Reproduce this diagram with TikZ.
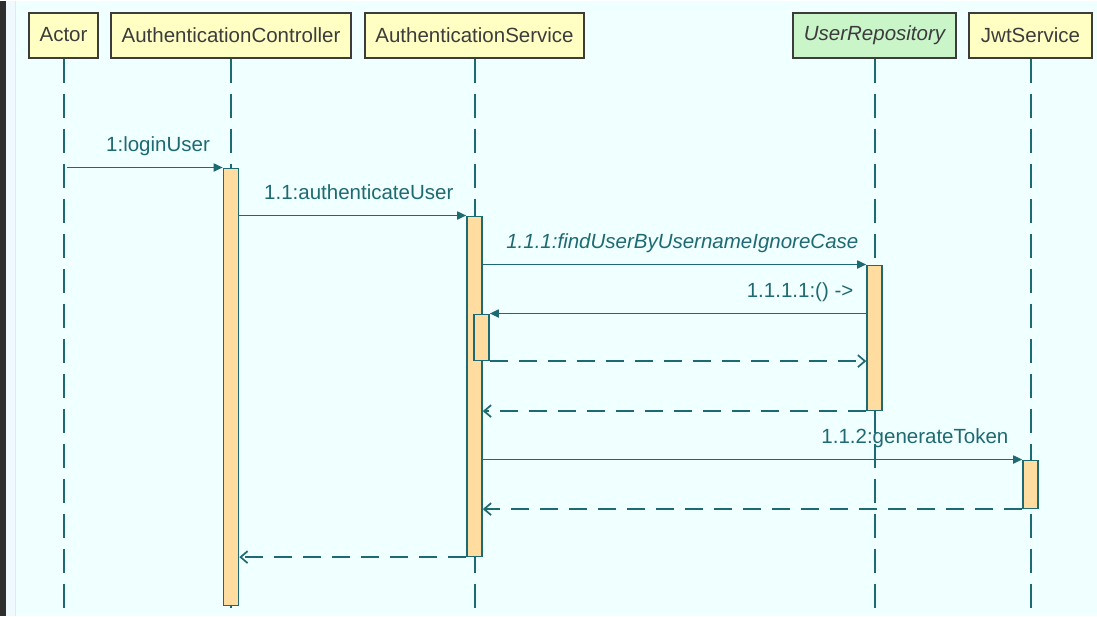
\documentclass[tikz,border=0pt]{standalone}
\usepackage{fontspec}
\setmainfont{Liberation Sans}
\usetikzlibrary{positioning,arrows.meta}
\definecolor{bgcol}{HTML}{F0FFFF}
\definecolor{linecol}{HTML}{1E6A73}
\definecolor{headfill}{HTML}{FFFFC4}
\definecolor{repofill}{HTML}{C9F5C9}
\definecolor{barfill}{HTML}{FFDCA0}
\definecolor{headtext}{HTML}{3C3C3C}
\begin{document}
\begin{tikzpicture}[x=1pt, y=-1pt,
  head/.style = {draw=headtext, line width=2pt, fill=headfill, text=headtext, minimum height=45pt, inner xsep=2pt, font=\fontsize{20.5}{24}\selectfont},
  life/.style = {draw=linecol, line width=2pt, dash pattern=on 24pt off 11pt},
  bar/.style = {draw=linecol, line width=1.6pt, fill=barfill, minimum width=15pt, inner sep=0pt, anchor=north},
  msg/.style = {draw=linecol, line width=1.7pt, -{Triangle[length=9pt,width=8pt]}},
  ret/.style = {draw=linecol, line width=1.7pt, dash pattern=on 18pt off 11pt, -{Straight Barb[length=7pt,width=12pt]}},
  lbl/.style = {text=linecol, inner sep=0pt, anchor=base east, yshift=16pt, font=\fontsize{20.5}{24}\selectfont}]
\fill[bgcol] (0,0) rectangle (1097,615);
\fill[black!82] (0,0) rectangle (6,615);
\fill[cyan!6] (6,0) rectangle (15,615);
\draw[cyan!18!white, line width=1pt] (15.5,0) -- (15.5,615);

\node[head, minimum width=69pt] (actor) at (63.5,34.5) {Actor};
\node[head, minimum width=240pt, right=11pt of actor] (ctrl) {AuthenticationController};
\node[head, minimum width=219pt, right=12pt of ctrl] (svc) {AuthenticationService};
\node[head, minimum width=163pt, fill=repofill, font=\fontsize{20.5}{24}\selectfont\itshape, right=207pt of svc] (repo) {UserRepository};
\node[head, minimum width=123pt, right=11pt of repo] (jwt) {JwtService};

\foreach \n in {actor,ctrl,svc,repo,jwt} {
  \coordinate (\n bot) at (\n.south |- 0,607);
  \draw[life] (\n) -- (\n bot);
}

\node[bar, minimum height=437pt] (cbar) at (ctrl.south |- 0,167) {};
\node[bar, minimum height=340pt] (sbar) at (svc.south |- 0,215) {};
\node[bar, minimum height=145pt] (rbar) at (repo.south |- 0,264) {};
\node[bar, minimum height=46pt, xshift=7pt] (nbar) at (sbar.north |- 0,313) {};
\node[bar, minimum height=48pt] (jbar) at (jwt.south |- 0,459) {};

\coordinate (start) at (67,167);
\draw[msg] (start) -- (cbar.north west) node[lbl, pos=1, xshift=-12pt] {1:loginUser};
\draw[msg] (cbar.east |- sbar.north) -- (sbar.north west) node[lbl, pos=1, xshift=-12pt] {1.1:authenticateUser};
\draw[msg] (sbar.east |- rbar.north) -- (rbar.north west) node[lbl, pos=1, xshift=-7pt, font=\fontsize{20.5}{24}\selectfont\itshape] {1.1.1:findUserByUsernameIgnoreCase};
\draw[msg] (rbar.west |- nbar.north) -- (nbar.north east) node[lbl, pos=0, xshift=-12pt] {1.1.1.1:() ->};
\draw[ret] (nbar.south east) -- (rbar.west |- nbar.south);
\draw[ret] (rbar.south west) -- (sbar.east |- rbar.south);
\draw[msg] (sbar.east |- jbar.north) -- (jbar.north west) node[lbl, pos=1, xshift=-13pt] {1.1.2:generateToken};
\draw[ret] (jbar.south west) -- (sbar.east |- jbar.south);
\draw[ret] (sbar.south west) -- (cbar.east |- sbar.south);
\end{tikzpicture}
\end{document}
